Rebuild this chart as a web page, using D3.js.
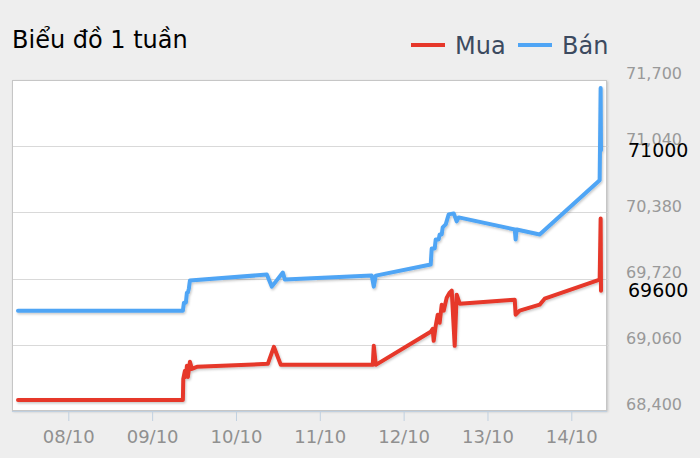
<!DOCTYPE html>
<html>
<head>
<meta charset="utf-8">
<script src="https://cdn.jsdelivr.net/npm/d3@7"></script>
<style>
  body { margin: 0; background: #eeeeee; }
  svg { display: block; font-family: "DejaVu Sans", sans-serif; }
</style>
</head>
<body>
<svg id="chart" width="700" height="458"></svg>
<script>
// ---------------- data ----------------
const chartTitle = "Biểu đồ 1 tuần";
const seriesNames = ["Mua", "Bán"];
const seriesColors = ["#e6372a", "#4fa5f5"];
const xTickLabels = ["08/10", "09/10", "10/10", "11/10", "12/10", "13/10", "14/10"];
const yTicks = [68400, 69060, 69720, 70380, 71040, 71700];

const muaTimes = [
  "07/10 09:36", "09/10 08:48", "09/10 08:55", "09/10 09:23", "09/10 09:40", "09/10 09:57",
  "09/10 10:14", "09/10 10:49", "09/10 11:23", "09/10 12:49", "10/10 09:07", "10/10 10:51",
  "10/10 12:50", "11/10 15:10", "11/10 15:27", "11/10 16:02", "12/10 07:45", "12/10 08:19",
  "12/10 08:36", "12/10 09:11", "12/10 09:46", "12/10 10:19", "12/10 10:54", "12/10 11:28",
  "12/10 12:20", "12/10 13:11", "12/10 13:46", "12/10 14:37", "12/10 15:11", "12/10 16:03",
  "13/10 07:48", "13/10 08:04", "13/10 09:13", "13/10 14:56", "13/10 16:22", "14/10 08:07",
  "14/10 08:24", "14/10 08:30"
];
const muaValues = [
  68510, 68510, 68720, 68800, 68740, 68850,
  68740, 68890, 68820, 68840, 68870, 69040,
  68860, 68860, 69050, 68860, 69190, 69220,
  69100, 69250, 69360, 69280, 69460, 69400,
  69530, 69580, 69600, 69050, 69560, 69470,
  69510, 69360, 69400, 69460, 69520, 69710,
  70320, 69600
];

const banTimes = [
  "07/10 09:36", "09/10 08:48", "09/10 09:06", "09/10 09:40", "09/10 09:57", "09/10 10:14",
  "09/10 10:31", "09/10 10:49", "10/10 08:50", "10/10 10:16", "10/10 13:25", "10/10 14:00",
  "11/10 14:52", "11/10 15:27", "11/10 16:02", "12/10 07:45", "12/10 08:02", "12/10 08:54",
  "12/10 09:11", "12/10 10:02", "12/10 10:19", "12/10 10:54", "12/10 11:11", "12/10 12:03",
  "12/10 12:54", "12/10 14:20", "12/10 15:11", "12/10 15:46", "13/10 07:48", "13/10 08:04",
  "13/10 08:21", "13/10 14:56", "14/10 08:07", "14/10 08:24", "14/10 08:30"
];
const banValues = [
  69400, 69400, 69480, 69480, 69580, 69580,
  69620, 69700, 69760, 69640, 69780, 69710,
  69750, 69640, 69750, 69860, 70020, 70020,
  70110, 70110, 70160, 70160, 70230, 70260,
  70360, 70370, 70290, 70330, 70210, 70110,
  70210, 70160, 70700, 71620, 71000
];

// ---------------- chart ----------------
const parseT = d3.timeParse("%d/%m %H:%M");
const svg = d3.select("#chart");

const plot = { x: 12, y: 80, w: 595, h: 331 };

const mua = muaTimes.map((t, i) => ({ t: parseT(t), v: muaValues[i] }));
const ban = banTimes.map((t, i) => ({ t: parseT(t), v: banValues[i] }));
const series = [mua, ban];

const allTimes = mua.concat(ban).map(d => d.t);
const x = d3.scaleTime()
  .domain(d3.extent(allTimes))
  .range([plot.x + 6, plot.x + plot.w - 6]);
const y = d3.scaleLinear()
  .domain([yTicks[0], yTicks[yTicks.length - 1]])
  .range([plot.y + plot.h, plot.y]);

const defs = svg.append("defs");
const f1 = defs.append("filter").attr("id", "boxShadow")
  .attr("x", "-5%").attr("y", "-5%").attr("width", "110%").attr("height", "110%");
f1.append("feDropShadow").attr("dx", 1).attr("dy", 1).attr("stdDeviation", 1.2)
  .attr("flood-color", "#000").attr("flood-opacity", 0.18);
const f2 = defs.append("filter").attr("id", "lineShadow")
  .attr("x", "-5%").attr("y", "-10%").attr("width", "110%").attr("height", "120%");
f2.append("feDropShadow").attr("dx", 1).attr("dy", 1.5).attr("stdDeviation", 1.1)
  .attr("flood-color", "#000").attr("flood-opacity", 0.22);

// Title
svg.append("text")
  .attr("x", 12).attr("y", 48)
  .attr("font-size", 24).attr("fill", "#000")
  .text(chartTitle);

// Legend
const legendX = [411, 518];
seriesNames.forEach((name, i) => {
  const g = svg.append("g");
  g.append("line")
    .attr("x1", legendX[i]).attr("x2", legendX[i] + 34)
    .attr("y1", 45).attr("y2", 45)
    .attr("stroke", seriesColors[i]).attr("stroke-width", 4);
  g.append("text")
    .attr("x", legendX[i] + 44).attr("y", 54)
    .attr("font-size", 24).attr("fill", "#3c4a5f")
    .text(name);
});

// Plot background
svg.append("rect")
  .attr("x", plot.x).attr("y", plot.y).attr("width", plot.w).attr("height", plot.h)
  .attr("fill", "#fff").attr("filter", "url(#boxShadow)");

// Gridlines
svg.append("g").selectAll("line").data(yTicks.slice(1, -1)).join("line")
  .attr("x1", plot.x).attr("x2", plot.x + plot.w + 2)
  .attr("y1", d => Math.round(y(d)) + 0.5).attr("y2", d => Math.round(y(d)) + 0.5)
  .attr("stroke", "#d9d9d9").attr("stroke-width", 1);

// Plot border
svg.append("rect")
  .attr("x", plot.x + 0.5).attr("y", plot.y + 0.5).attr("width", plot.w - 1).attr("height", plot.h - 1)
  .attr("fill", "none").attr("stroke", "#c6c6c6").attr("stroke-width", 1);

// X axis
const xTicks = xTickLabels.map(s => parseT(s + " 00:00"));
const xAxis = d3.axisBottom(x)
  .tickValues(xTicks)
  .tickFormat(d3.timeFormat("%d/%m"))
  .tickSize(10).tickPadding(9);
const gx = svg.append("g")
  .attr("transform", `translate(0,${plot.y + plot.h})`)
  .call(xAxis);
gx.select(".domain").attr("stroke", "#c0d0e0").attr("d", `M${plot.x},0.5H${plot.x + plot.w}`);
gx.selectAll(".tick line").attr("stroke", "#c0d0e0");
gx.selectAll(".tick text").attr("fill", "#909090").attr("font-size", 18)
  .attr("font-family", "DejaVu Sans, sans-serif");

// Y axis (right, labels only)
const yAxis = d3.axisRight(y).tickValues(yTicks).tickFormat(d3.format(",")).tickSize(0).tickPadding(0);
const gy = svg.append("g")
  .attr("transform", `translate(626,0)`)
  .call(yAxis);
gy.select(".domain").remove();
gy.selectAll(".tick text").attr("fill", "#999").attr("font-size", 16).attr("dy", "-0.08em")
  .attr("font-family", "DejaVu Sans, sans-serif");

// Lines
const line = d3.line().x(d => x(d.t)).y(d => y(d.v));
series.forEach((s, i) => {
  svg.append("path")
    .datum(s)
    .attr("d", line)
    .attr("fill", "none")
    .attr("stroke", seriesColors[i])
    .attr("stroke-width", 4)
    .attr("stroke-linejoin", "round")
    .attr("stroke-linecap", "round")
    .attr("filter", "url(#lineShadow)");
});

// Current value labels
series.forEach((s, i) => {
  const last = s[s.length - 1];
  svg.append("text")
    .attr("x", 628).attr("y", y(last.v))
    .attr("dy", "0.36em")
    .attr("font-size", 19).attr("fill", "#000")
    .text(last.v);
});
</script>
</body>
</html>
